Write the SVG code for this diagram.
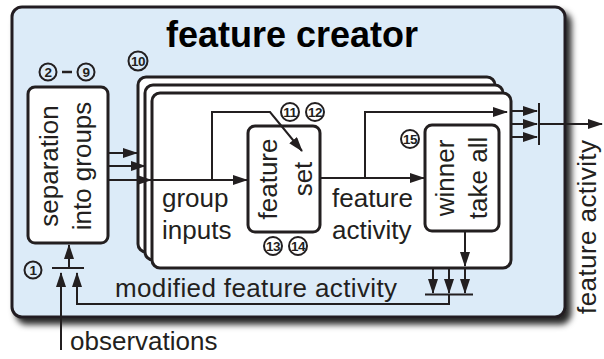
<svg xmlns="http://www.w3.org/2000/svg" width="604" height="359" viewBox="0 0 604 359">
<defs>
<filter id="shadow" x="-5%" y="-5%" width="115%" height="120%">
<feDropShadow dx="5" dy="6" stdDeviation="3" flood-color="#000" flood-opacity="0.85"/>
</filter>
<marker id="ah" markerUnits="userSpaceOnUse" markerWidth="15" markerHeight="10" refX="14" refY="5" orient="auto">
<path d="M0,0 L15,5 L0,10 z" fill="#231f20"/>
</marker>
</defs>
<style>
.box{fill:#fff;stroke:#231f20;stroke-width:3}
.outer{fill:#dcebf8;stroke:#231f20;stroke-width:3}
.con{fill:none;stroke:#231f20;stroke-width:2}
.arr{marker-end:url(#ah)}
.lbl{font-family:"Liberation Sans",Arial,sans-serif;font-size:26px;fill:#231f20}
.title{font-family:"Liberation Sans",Arial,sans-serif;font-size:36px;font-weight:bold;fill:#000}
.circ{fill:none;stroke:#231f20;stroke-width:2}
.num{font-family:"Liberation Sans",Arial,sans-serif;font-size:13.5px;font-weight:bold;fill:#231f20;text-anchor:middle;letter-spacing:-0.5px}
</style>

<g id="feature-creator">
<rect class="outer" x="12" y="7" width="553" height="310" rx="10" filter="url(#shadow)"/>
<text class="title" x="292" y="47" text-anchor="middle">feature creator</text>
</g>

<g id="separation">
<rect class="box" x="28" y="87" width="80" height="156" rx="7"/>
<text class="lbl" text-anchor="middle" transform="translate(58,166) rotate(-90)">separation</text>
<text class="lbl" text-anchor="middle" transform="translate(91,166) rotate(-90)">into groups</text>
</g>

<g id="group-stack">
<rect class="box" x="138" y="77" width="357" height="175" rx="8"/>
<rect class="box" x="145" y="85" width="358" height="175" rx="8"/>
<rect class="box" x="152" y="93" width="359" height="175" rx="8"/>
<text class="lbl" x="162" y="207">group</text>
<text class="lbl" x="162" y="239">inputs</text>
<text class="lbl" x="332" y="207">feature</text>
<text class="lbl" x="332" y="239">activity</text>
</g>

<g id="feature-set">
<rect class="box" x="248" y="126" width="72" height="106" rx="7"/>
<text class="lbl" text-anchor="middle" transform="translate(277,179) rotate(-90)">feature</text>
<text class="lbl" text-anchor="middle" transform="translate(312,179) rotate(-90)">set</text>
</g>

<g id="winner-take-all">
<rect class="box" x="425" y="125" width="74" height="106" rx="7"/>
<text class="lbl" text-anchor="middle" transform="translate(454,178) rotate(-90)">winner</text>
<text class="lbl" text-anchor="middle" transform="translate(487,178) rotate(-90)">take all</text>
</g>

<g id="connectors">
<path class="con arr" d="M108,153 H137"/>
<path class="con arr" d="M108,166 H145"/>
<path class="con arr" d="M108,180 H151"/>
<path class="con arr" d="M151,180 H247"/>
<path class="con arr" d="M212,180 V112 H270 L302,151"/>
<path class="con arr" d="M320,178 H424"/>
<path class="con arr" d="M365,178 V112 H507"/>
<path class="con arr" d="M512,111 H537"/>
<path class="con arr" d="M512,124 H537"/>
<path class="con arr" d="M512,137 H537"/>
<path class="con" d="M539,103 V145"/>
<path class="con arr" d="M539,124 H602"/>
<path class="con arr" d="M465,232 V266"/>
<path class="con arr" d="M433,269 V293"/>
<path class="con arr" d="M449,269 V293"/>
<path class="con arr" d="M465,269 V293"/>
<path class="con" d="M425,294.5 H473"/>
<path class="con arr" d="M449,295 V304 H77 V273"/>
<path class="con" d="M52,268 H84"/>
<path class="con arr" d="M69,268 V245"/>
<path class="con arr" d="M61,350 V273"/>
</g>

<g id="labels">
<text class="lbl" x="115" y="297" textLength="282">modified feature activity</text>
<text class="lbl" x="70" y="350">observations</text>
<text class="lbl" transform="translate(596,314) rotate(-90)" textLength="174">feature activity</text>
</g>

<g id="step-numbers">
<circle class="circ" cx="33" cy="270" r="8.5"/><text class="num" x="33" y="274.8">1</text>
<circle class="circ" cx="48" cy="72" r="8.5"/><text class="num" x="48" y="76.8">2</text>
<path d="M62,72 H72" stroke="#231f20" stroke-width="2.5"/>
<circle class="circ" cx="86" cy="72" r="8.5"/><text class="num" x="86" y="76.8">9</text>
<circle class="circ" cx="138" cy="61" r="9.5"/><text class="num" x="138" y="65.8">10</text>
<circle class="circ" cx="290" cy="112" r="9"/><text class="num" x="290" y="116.8">11</text>
<circle class="circ" cx="315" cy="112" r="9"/><text class="num" x="315" y="116.8">12</text>
<circle class="circ" cx="273" cy="246" r="9"/><text class="num" x="273" y="250.8">13</text>
<circle class="circ" cx="298" cy="246" r="9"/><text class="num" x="298" y="250.8">14</text>
<circle class="circ" cx="410" cy="139" r="9"/><text class="num" x="410" y="143.8">15</text>
</g>
</svg>
